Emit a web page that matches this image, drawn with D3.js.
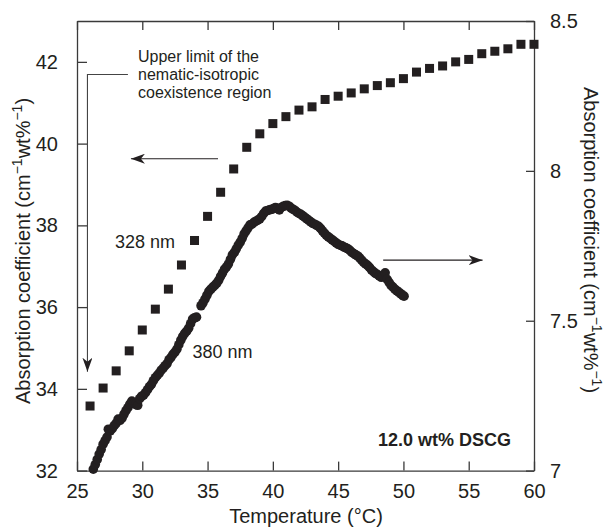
<!DOCTYPE html>
<html>
<head>
<meta charset="utf-8">
<script src="https://cdn.jsdelivr.net/npm/d3@7"></script>
<style>
  html, body { margin: 0; padding: 0; background: #fff; }
  svg { display: block; font-family: "Liberation Sans", Arial, Helvetica, sans-serif; }
</style>
</head>
<body>
<div id="chart"></div>
<script>
// ---- Data ----
// 328 nm series (left axis), squares
const temps328 = [26,27,28,29,30,31,32,33,34,35,36,37,38,39,40,41,42,43,44,45,46,47,48,49,50,51,52,53,54,55,56,57,58,59,60];
const abs328 = [33.58,34.02,34.44,34.93,35.44,35.95,36.44,37.03,37.63,38.22,38.81,39.38,39.91,40.24,40.49,40.66,40.82,40.90,41.08,41.16,41.24,41.34,41.42,41.49,41.59,41.75,41.84,41.90,42.00,42.06,42.20,42.26,42.32,42.43,42.43];

// 380 nm series (right axis), circles
const temps380 = [26.25,26.4,26.55,26.7,26.85,27.0,27.15,27.3,27.4,27.55,27.7,27.85,28.0,28.15,28.3,28.45,28.6,28.75,28.9,29.05,29.2,29.35,29.5,29.65,29.8,29.95,30.1,30.25,30.4,30.55,30.7,30.85,31.0,31.15,31.3,31.45,31.6,31.75,31.9,32.05,32.2,32.35,32.5,32.65,32.8,32.95,33.1,33.25,33.4,33.55,33.7,33.85,34.0,34.15,34.5,34.65,34.8,34.95,35.1,35.25,35.4,35.55,35.7,35.85,36.0,36.15,36.3,36.45,36.6,36.75,36.9,37.05,37.2,37.35,37.5,37.65,37.8,37.95,38.1,38.25,38.4,38.55,38.7,38.85,39.0,39.15,39.3,39.45,39.6,39.75,39.9,40.05,40.2,40.35,40.5,40.65,40.8,40.95,41.1,41.25,41.4,41.55,41.7,41.85,42.0,42.15,42.3,42.45,42.6,42.75,42.9,43.05,43.2,43.35,43.5,43.65,43.8,43.95,44.1,44.25,44.4,44.55,44.7,44.85,45.0,45.15,45.3,45.45,45.6,45.75,45.9,46.05,46.2,46.35,46.5,46.65,46.8,46.95,47.1,47.25,47.4,47.55,47.7,47.85,48.0,48.15,48.3,48.45,48.6,48.75,48.9,49.05,49.2,49.35,49.5,49.65,49.8,49.95,50.05];
const abs380 = [7.005,7.02,7.037,7.055,7.07,7.088,7.1,7.112,7.138,7.133,7.14,7.15,7.158,7.172,7.168,7.175,7.188,7.2,7.21,7.222,7.232,7.225,7.22,7.218,7.24,7.248,7.252,7.26,7.27,7.28,7.288,7.3,7.31,7.318,7.325,7.335,7.342,7.35,7.357,7.37,7.378,7.388,7.395,7.405,7.42,7.435,7.448,7.458,7.465,7.475,7.49,7.505,7.51,7.512,7.55,7.56,7.572,7.585,7.598,7.605,7.612,7.618,7.625,7.635,7.648,7.66,7.672,7.68,7.69,7.705,7.72,7.728,7.74,7.752,7.762,7.775,7.79,7.8,7.81,7.82,7.822,7.828,7.832,7.836,7.84,7.848,7.858,7.866,7.868,7.87,7.872,7.874,7.878,7.875,7.87,7.878,7.882,7.884,7.885,7.882,7.876,7.872,7.868,7.862,7.858,7.855,7.85,7.845,7.84,7.835,7.83,7.825,7.822,7.818,7.815,7.808,7.8,7.792,7.785,7.78,7.775,7.77,7.765,7.76,7.755,7.752,7.75,7.746,7.743,7.74,7.735,7.728,7.724,7.72,7.716,7.71,7.702,7.695,7.69,7.685,7.678,7.67,7.664,7.658,7.655,7.65,7.645,7.648,7.66,7.638,7.628,7.618,7.612,7.605,7.6,7.595,7.59,7.584,7.582];

// Tick labels
const xTicks = [25,30,35,40,45,50,55,60];
const yLeftTicks = [32,34,36,38,40,42];
const yRightTicks = [7,7.5,8,8.5];
const yRightLabels = ["7","7.5","8","8.5"];

// ---- Layout ----
const W = 605, H = 528;
const mLeft = 77, mRight = 534, mTop = 21, mBottom = 470.6;
const ink = "#231f20", axisCol = "#3a3a3a";

const svg = d3.select("#chart").append("svg").attr("width", W).attr("height", H);

const x = d3.scaleLinear().domain([25, 60]).range([mLeft, mRight]);
const yL = d3.scaleLinear().domain([32, 43]).range([mBottom, mTop]);
const yR = d3.scaleLinear().domain([7, 8.5]).range([mBottom, mTop]);

// Axes (inward ticks)
const fs = 20;
const gB = svg.append("g").attr("transform", `translate(0,${mBottom})`)
  .call(d3.axisBottom(x).tickValues(xTicks).tickSizeInner(-9).tickSizeOuter(0).tickPadding(13).tickFormat(d3.format("d")));
const gT = svg.append("g").attr("transform", `translate(0,${mTop})`)
  .call(d3.axisTop(x).tickValues(xTicks).tickSizeInner(-9).tickSizeOuter(0).tickFormat(""));
const gL = svg.append("g").attr("transform", `translate(${mLeft},0)`)
  .call(d3.axisLeft(yL).tickValues(yLeftTicks).tickSizeInner(-10).tickSizeOuter(0).tickPadding(19).tickFormat(d3.format("d")));
const gR = svg.append("g").attr("transform", `translate(${mRight},0)`)
  .call(d3.axisRight(yR).tickValues(yRightTicks).tickSizeInner(-8).tickSizeOuter(0).tickPadding(16).tickFormat((d, i) => yRightLabels[i]));

[gB, gT, gL, gR].forEach(g => {
  g.select(".domain").attr("stroke", axisCol).attr("stroke-width", 1.3);
  g.selectAll(".tick line").attr("stroke", axisCol).attr("stroke-width", 1.3);
  g.selectAll(".tick text").attr("fill", ink).attr("font-size", fs)
    .attr("font-family", "'Liberation Sans', Arial, sans-serif");
});

// Axis titles
svg.append("text").attr("x", 306).attr("y", 523).attr("text-anchor", "middle")
  .attr("font-size", fs).attr("fill", ink).text("Temperature (°C)");

function yTitle(sel) {
  sel.append("tspan").text("Absorption coefficient (cm");
  sel.append("tspan").attr("font-size", 14).attr("dy", -8).text("\u22121");
  sel.append("tspan").attr("dy", 8).text("wt%");
  sel.append("tspan").attr("font-size", 14).attr("dy", -8).text("\u22121");
  sel.append("tspan").attr("dy", 8).text(")");
}
svg.append("text").attr("transform", "translate(30,251) rotate(-90)")
  .attr("text-anchor", "middle").attr("font-size", fs).attr("fill", ink).call(yTitle);
svg.append("text").attr("transform", "translate(584,240) rotate(90)")
  .attr("text-anchor", "middle").attr("font-size", fs).attr("fill", ink).call(yTitle);

// Data: 380 nm circles
svg.append("g").selectAll("circle").data(temps380).join("circle")
  .attr("cx", d => x(d)).attr("cy", (d, i) => yR(abs380[i])).attr("r", 4.8)
  .attr("fill", ink);

// Data: 328 nm squares
const sq = 9;
svg.append("g").selectAll("rect").data(temps328).join("rect")
  .attr("x", d => x(d) - sq / 2).attr("y", (d, i) => yL(abs328[i]) - sq / 2)
  .attr("width", sq).attr("height", sq).attr("fill", ink);

// Arrowheads
const defs = svg.append("defs");
defs.append("marker").attr("id", "ah").attr("viewBox", "0 0 14 10").attr("refX", 14).attr("refY", 5)
  .attr("markerWidth", 14).attr("markerHeight", 10).attr("markerUnits", "userSpaceOnUse").attr("orient", "auto")
  .append("path").attr("d", "M0,0 L14,5 L0,10 L4,5 Z").attr("fill", ink);

// Annotation bracket with down arrow
svg.append("path")
  .attr("d", `M${x(28.9)},${yL(41.69)} H${x(25.8)} V${yL(34.42)}`)
  .attr("fill", "none").attr("stroke", "#444").attr("stroke-width", 1.1).attr("marker-end", "url(#ah)");
// Left-pointing arrow (to left axis)
svg.append("line").attr("x1", x(35.8)).attr("y1", yL(39.63)).attr("x2", x(29.13)).attr("y2", yL(39.63))
  .attr("stroke", ink).attr("stroke-width", 1.2).attr("marker-end", "url(#ah)");
// Right-pointing arrow (to right axis)
svg.append("line").attr("x1", x(48.45)).attr("y1", yR(7.702)).attr("x2", x(56.06)).attr("y2", yR(7.702))
  .attr("stroke", ink).attr("stroke-width", 1.2).attr("marker-end", "url(#ah)");

// Annotation text
const ann = ["Upper limit of the", "nematic-isotropic", "coexistence region"];
svg.append("g").selectAll("text").data(ann).join("text")
  .attr("x", 138).attr("y", (d, i) => 62 + i * 18)
  .attr("font-size", 16).attr("fill", ink).text(d => d);

svg.append("text").attr("x", 115).attr("y", 248).attr("font-size", 18).attr("fill", ink).text("328 nm");
svg.append("text").attr("x", 192.5).attr("y", 357.5).attr("font-size", 18).attr("fill", ink).text("380 nm");
svg.append("text").attr("x", 378).attr("y", 446).attr("font-size", 18).attr("font-weight", "bold")
  .attr("fill", ink).text("12.0 wt% DSCG");
</script>
</body>
</html>
